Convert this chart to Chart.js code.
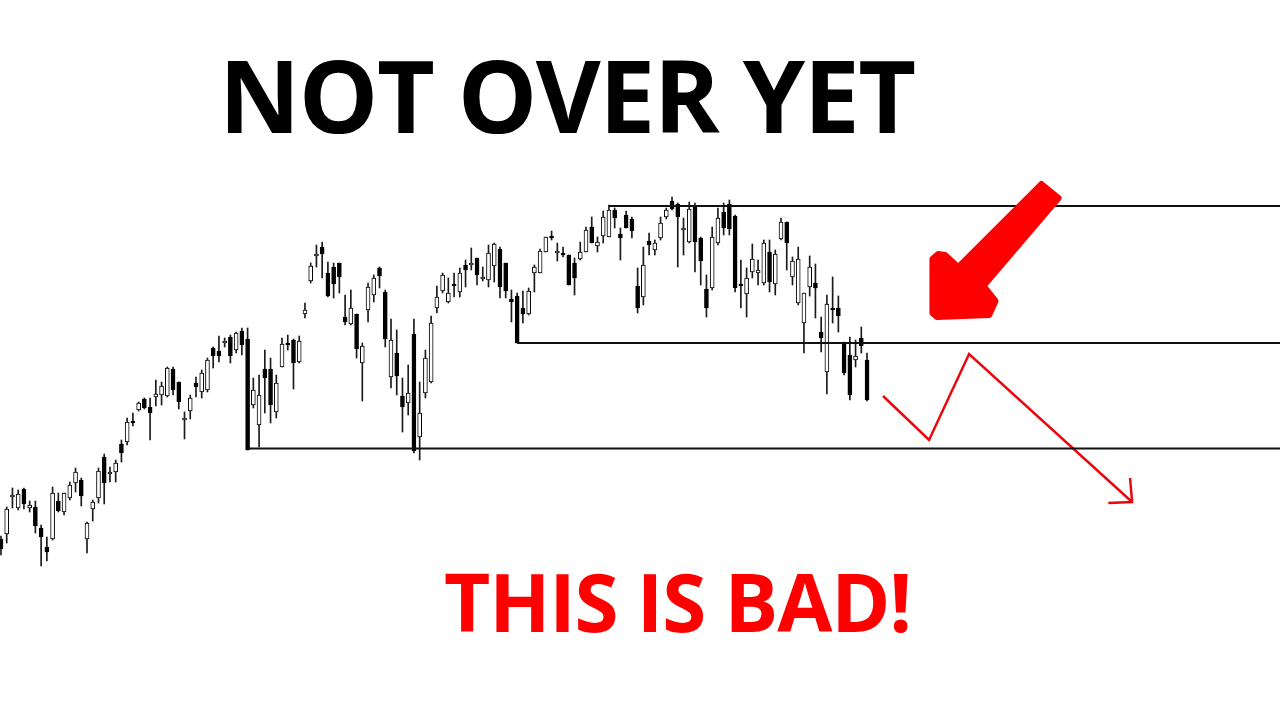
<!DOCTYPE html>
<html><head><meta charset="utf-8">
<script src="https://cdn.jsdelivr.net/npm/chart.js@4.4.1/dist/chart.umd.min.js"></script>
<style>
html,body{margin:0;padding:0;background:#fff;width:1280px;height:720px;overflow:hidden;}
#wrap{position:relative;width:1280px;height:720px;}
canvas{position:absolute;left:0;top:0;}
.t{position:absolute;font-family:"Open Sans",sans-serif;font-weight:700;white-space:nowrap;}
#title{left:219px;top:44px;font-size:100px;line-height:100px;letter-spacing:-1.5px;color:#000;}
#sub{left:444px;top:561px;font-size:80px;line-height:80px;letter-spacing:-1.2px;color:#f00;}
</style></head><body>
<div id="wrap"><canvas id="c" width="1280" height="720"></canvas>
<div class="t" id="title">NOT OVER YET</div><div class="t" id="sub">THIS IS BAD!</div></div>
<script>
// Daily candles (index price units)
const opens=[161,166,203,192,211,192,193,172,153,161,
199,188,202,217,220,161,191,202,243,226,
228,256,258,279,290,301,293,303,305,304,
331,318,280,289,317,308,310,352,349,357,
363,350,369,361,295,275,331,331,288,333,
357,360,338,386,419,444,453,427,433,437,
383,376,386,337,390,405,432,408,323,347,
304,297,366,263,307,318,392,409,398,416,
408,435,435,442,421,420,434,451,437,401,
404,392,386,427,427,448,464,447,447,445,
437,441,448,473,454,464,463,490,466,485,
481,414,403,459,450,462,483,499,496,470,
458,494,462,411,412,457,488,496,484,416,
406,428,427,417,448,416,461,478,423,397,
377,413,417,368,328,392,392,357,345,340,
362,340];
const highs=[164,193,212,210,212,199,199,175,163,213,
207,207,218,232,222,178,200,232,246,233,
240,260,282,287,298,302,302,320,318,333,
333,318,288,305,323,330,342,353,364,362,
365,368,372,372,322,325,350,342,325,362,
365,361,364,397,437,455,458,438,437,437,
405,410,386,357,417,425,433,410,381,370,
322,335,381,318,350,384,414,427,422,427,
432,440,452,442,433,455,457,453,437,410,
407,409,412,435,451,463,469,457,453,445,
442,458,473,483,463,489,495,492,472,489,
483,432,453,467,460,483,492,503,497,482,
498,497,463,425,473,492,497,500,485,440,
432,456,440,460,460,450,482,478,443,453,
407,444,436,383,405,423,404,358,363,360,
373,347];
const lows=[145,157,192,190,191,188,167,134,139,160,
188,185,200,208,194,147,179,197,196,218,
218,238,255,274,289,291,260,294,295,303,
305,291,261,281,303,302,308,332,338,353,
337,347,345,250,292,253,287,277,282,333,
350,311,337,382,417,433,422,403,402,407,
375,375,342,299,378,398,412,353,312,305,
268,285,247,240,302,317,387,407,397,403,
403,413,430,415,419,413,418,402,402,378,
357,377,385,408,427,448,460,439,443,415,
405,440,448,457,448,457,463,472,440,472,
462,387,395,445,445,460,481,490,433,445,
457,428,415,383,410,455,465,465,408,392,
383,422,415,415,408,405,460,430,415,395,
347,404,382,348,306,377,368,325,300,333,
347,299];
const closes=[151,191,205,206,196,195,174,163,148,207,
189,207,215,228,204,177,198,229,217,228,
237,247,278,277,297,292,287,306,314,332,
310,298,282,302,313,327,340,344,344,359,
344,367,355,250,310,305,322,295,317,356,
355,337,359,390,434,446,446,404,416,423,
378,392,351,354,413,422,424,361,360,324,
293,307,249,287,342,377,403,425,407,414,
427,430,437,425,423,447,456,413,409,398,
357,386,409,433,449,463,462,449,445,415,
422,448,470,457,458,483,490,482,462,472,
469,392,435,455,457,477,490,491,483,472,
491,458,439,392,463,482,472,471,412,414,
422,441,430,457,418,446,478,457,439,441,
407,433,412,362,396,390,384,327,305,344,
354,300];

// Support / resistance levels: [start candle index, price]
const levelStarts=[106,90,43];
const levelPrices=[494,357,251.5];
const axisEnd=223;

// Projected path (candle index, price)
const pathX=[153.79,161.81,168.79,197.21];
const pathY=[304,260,346,198];
const headX=[193.07,197.21,196.86];
const headY=[197,198,222];

// Big pointer arrow outline (candle index, price)
const pointerX=[181.4,184.4,171.3,173.4,172.3,163.2,162.4,162.4,163.4,164.6,166.9];
const pointerY=[516,502,414,399,385,383,387,441,446,445,433];

const idx=opens.map((_,i)=>i);
const bodies=idx.map(i=>({x:i,y:[opens[i],closes[i]]}));
const wicks=idx.map(i=>({x:i,y:[lows[i],highs[i]]}));
const bodyColors=idx.map(i=>closes[i]>=opens[i]?'#ffffff':'#000000');

const levelSets=levelStarts.map((s,k)=>({
  type:'line',
  data:[{x:s,y:levelPrices[k]},{x:axisEnd,y:levelPrices[k]}],
  borderColor:'#111',borderWidth:2,pointRadius:0,tension:0,order:0
}));

const pointerPlugin={
  id:'pointer',
  afterDatasetsDraw(chart){
    const {ctx,scales:{x,y}}=chart;
    ctx.save();
    ctx.beginPath();
    pointerX.forEach((px,k)=>{
      const X=x.getPixelForValue(px),Y=y.getPixelForValue(pointerY[k]);
      if(k===0)ctx.moveTo(X,Y);else ctx.lineTo(X,Y);
    });
    ctx.closePath();
    ctx.fillStyle='#ff0000';ctx.strokeStyle='#ff0000';
    ctx.lineJoin='round';ctx.lineWidth=6;
    ctx.fill();ctx.stroke();
    ctx.restore();
  }
};

new Chart(document.getElementById('c'),{
  type:'bar',
  data:{datasets:[
    {type:'bar',data:bodies,backgroundColor:bodyColors,borderColor:'#000',borderWidth:1,borderSkipped:false,barThickness:4,grouped:false,order:1},
    {type:'bar',data:wicks,backgroundColor:'#1a1a1a',borderWidth:0,barThickness:1,grouped:false,order:2},
    ...levelSets,
    {type:'line',data:pathX.map((v,k)=>({x:v,y:pathY[k]})),borderColor:'#e8070d',borderWidth:2.5,pointRadius:0,tension:0,order:0},
    {type:'line',data:headX.map((v,k)=>({x:v,y:headY[k]})),borderColor:'#e8070d',borderWidth:2.5,pointRadius:0,tension:0,order:0}
  ]},
  options:{
    responsive:false,animation:false,events:[],
    layout:{padding:0},
    plugins:{legend:{display:false},tooltip:{enabled:false},title:{display:false}},
    scales:{
      x:{type:'linear',min:-0.17,max:axisEnd,display:false,offset:false},
      y:{type:'linear',min:-20,max:700,display:false}
    }
  },
  plugins:[pointerPlugin]
});
</script>
</body></html>
